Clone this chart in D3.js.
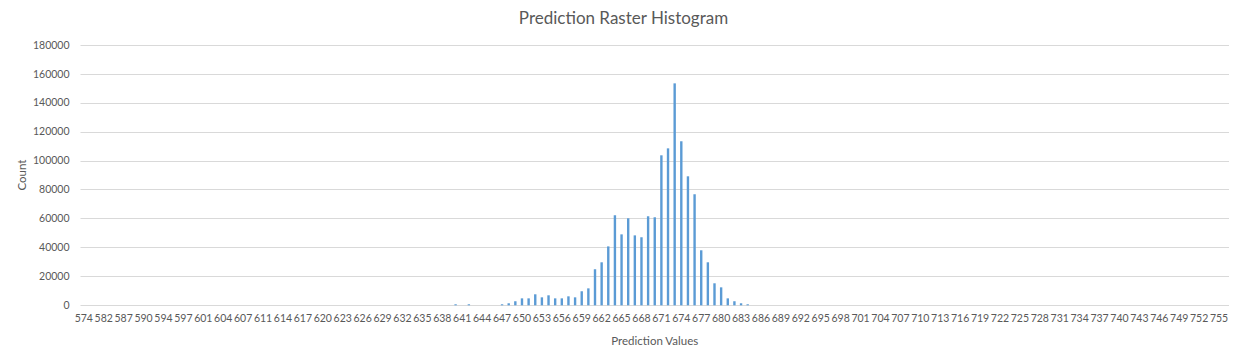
<!DOCTYPE html>
<html>
<head>
  <title>Prediction Raster Histogram</title>
  <script src="https://cdn.jsdelivr.net/npm/d3@7"></script>
  <style>
    body { margin: 0; background: #fff; font-family: Lato, "Open Sans", sans-serif; }
    svg text { fill: #595959; }
  </style>
</head>
<body>
  <div id="chart"></div>
  <script>
    // raster values found in the prediction grid (x categories)
    const lowValues = [574, 578, 580, 582, 584, 586, 587, 588, 589, 590, 592, 593, 594, 595, 596,
                       597, 599, 600, 601, 602, 603, 604, 605, 606, 607, 609, 610, 611, 612, 613,
                       614, 615, 616];
    const categories = lowValues.concat(d3.range(617, 757));

    // pixel counts (everything else is ~0)
    const barValues = [640, 642, 647, 648, 649, 650, 651, 652, 653, 654, 655, 656, 657, 658, 659,
                       660, 661, 662, 663, 664, 665, 666, 667, 668, 669, 670, 671, 672, 673, 674,
                       675, 676, 677, 678, 679, 680, 681, 682, 683, 684];
    const barCounts = [700, 700, 700, 1400, 2800, 4800, 4800, 7600, 5500, 6900, 4800, 4800, 6200, 5500, 9700,
                       11700, 24900, 29700, 40700, 62200, 49000, 60100, 48300, 47000, 61500, 60800, 103600, 108400, 153300, 113300,
                       89100, 76700, 38000, 29700, 15200, 12400, 4800, 2800, 1400, 700];

    const yTicks = [0, 20000, 40000, 60000, 80000, 100000, 120000, 140000, 160000, 180000];

    const countOf = new Map(barValues.map((v, i) => [v, barCounts[i]]));
    const data = categories.map(v => ({ value: v, count: countOf.get(v) || 0 }));

    const W = 1247, H = 363;
    const plot = { left: 80.5, right: 1229, top: 44.7, bottom: 305.3 };

    const svg = d3.select("#chart").append("svg")
      .attr("width", W)
      .attr("height", H);

    const x = d3.scaleBand()
      .domain(categories)
      .range([plot.left, plot.right])
      .paddingInner(0.64)
      .paddingOuter(0.32);

    const y = d3.scaleLinear()
      .domain([0, 180000])
      .range([plot.bottom, plot.top]);

    // gridlines
    svg.append("g")
      .selectAll("line")
      .data(yTicks)
      .join("line")
        .attr("x1", plot.left)
        .attr("x2", plot.right)
        .attr("y1", d => Math.round(y(d)) + 0.5)
        .attr("y2", d => Math.round(y(d)) + 0.5)
        .attr("stroke", "#d9d9d9")
        .attr("stroke-width", 1);

    // y axis labels
    const yAxis = svg.append("g")
      .attr("transform", `translate(${plot.left},0)`)
      .call(d3.axisLeft(y).tickValues(yTicks).tickSize(0).tickPadding(11).tickFormat(d3.format("d")));
    yAxis.select(".domain").remove();
    yAxis.selectAll("text")
      .attr("font-family", "Lato, sans-serif")
      .attr("font-size", 10.5)
      .style("fill", "#595959");

    // x axis labels: every third category, like Excel's auto skip
    const xAxis = svg.append("g")
      .attr("transform", `translate(0,${plot.bottom})`)
      .call(d3.axisBottom(x)
        .tickValues(categories.filter((d, i) => i % 3 === 0))
        .tickSize(0)
        .tickPadding(9));
    xAxis.select(".domain").remove();
    xAxis.selectAll("text")
      .attr("font-family", "Lato, sans-serif")
      .attr("font-size", 10.5)
      .style("fill", "#595959");

    // bars
    svg.append("g")
      .selectAll("rect")
      .data(data)
      .join("rect")
        .attr("x", d => x(d.value))
        .attr("width", x.bandwidth())
        .attr("y", d => y(d.count))
        .attr("height", d => y(0) - y(d.count))
        .attr("fill", "#5b9bd5");

    // titles
    svg.append("text")
      .attr("x", W / 2)
      .attr("y", 24)
      .attr("text-anchor", "middle")
      .attr("font-size", 17)
      .text("Prediction Raster Histogram");

    svg.append("text")
      .attr("x", (plot.left + plot.right) / 2)
      .attr("y", 345)
      .attr("text-anchor", "middle")
      .attr("font-size", 11.5)
      .text("Prediction Values");

    svg.append("text")
      .attr("transform", `translate(26,${(plot.top + plot.bottom) / 2}) rotate(-90)`)
      .attr("text-anchor", "middle")
      .attr("font-size", 11.5)
      .text("Count");
  </script>
</body>
</html>
